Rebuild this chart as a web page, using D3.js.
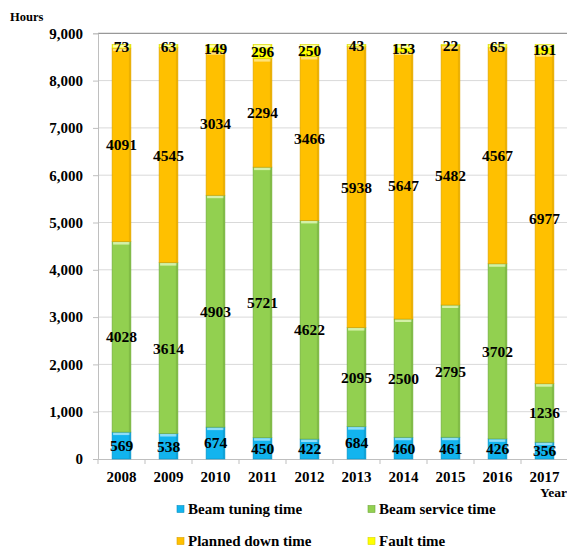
<!DOCTYPE html>
<html>
<head>
<meta charset="utf-8">
<script src="https://cdn.jsdelivr.net/npm/d3@7"></script>
<style>
html,body{margin:0;padding:0;background:#fff;}
svg{display:block;}
</style>
</head>
<body>
<script>
const years = ["2008","2009","2010","2011","2012","2013","2014","2015","2016","2017"];
const beamTuning = [569,538,674,450,422,684,460,461,426,356];
const beamService = [4028,3614,4903,5721,4622,2095,2500,2795,3702,1236];
const plannedDown = [4091,4545,3034,2294,3466,5938,5647,5482,4567,6977];
const faultTime = [73,63,149,296,250,43,153,22,65,191];
const yTicks = [0,1000,2000,3000,4000,5000,6000,7000,8000,9000];
const seriesNames = ["Beam tuning time","Beam service time","Planned down time","Fault time"];
const seriesColors = ["#12B4EE","#92D050","#FFC000","#FFFF00"];
const seriesEdges = ["#0A8FC0","#6FA83A","#D9A000","#D6D600"];
const seriesHighlights = ["#8EDDF8","#D4F0A8","#FFE27A","#FFFFB0"];

const FONT = '"Liberation Serif"';
function styleText(sel, size) {
  return sel.style("font-family", FONT).style("font-weight", "bold").style("font-size", size).attr("fill", "#000");
}

const W = 567, H = 548;
const svg = d3.select("body").append("svg").attr("width", W).attr("height", H);

const x = d3.scaleBand().domain(years).range([98, 568]).paddingInner(0.6).paddingOuter(0.3);
const y = d3.scaleLinear().domain([0, 9000]).range([459, 33.3]);

// gridlines
svg.append("g").selectAll("line").data(yTicks.filter(t => t > 0 && t < 9000)).join("line")
  .attr("x1", 98).attr("x2", 568).attr("y1", d => y(d)).attr("y2", d => y(d))
  .attr("stroke", "#d9d9d9").attr("stroke-width", 1);
// top border
svg.append("line").attr("x1", 98).attr("x2", 568).attr("y1", y(9000)).attr("y2", y(9000))
  .attr("stroke", "#7f7f7f").attr("stroke-width", 1);

// y axis
const yAxis = d3.axisLeft(y).tickValues(yTicks).tickFormat(d3.format(",")).tickSize(5).tickPadding(10);
const gy = svg.append("g").attr("transform", "translate(98,0)").call(yAxis);
gy.select(".domain").attr("stroke", "#bfbfbf");
gy.selectAll(".tick line").attr("stroke", "#bfbfbf");
styleText(gy.selectAll(".tick text"), "15px");

// x axis
const xAxis = d3.axisBottom(x).tickSize(0).tickPadding(12);
const gx = svg.append("g").attr("transform", "translate(0,459)").call(xAxis);
gx.select(".domain").attr("stroke", "#bfbfbf");
styleText(gx.selectAll(".tick text"), "15px");
// x boundary ticks
const step = x.step();
svg.append("g").selectAll("line").data(d3.range(years.length + 1)).join("line")
  .attr("x1", i => 98 + i * step).attr("x2", i => 98 + i * step)
  .attr("y1", 459).attr("y2", 464).attr("stroke", "#bfbfbf");

// stacked data
const rows = years.map((yr, i) => ({year: yr, s0: beamTuning[i], s1: beamService[i], s2: plannedDown[i], s3: faultTime[i]}));
const stack = d3.stack().keys(["s0","s1","s2","s3"]);
const layers = stack(rows);

const barsG = svg.append("g");
layers.forEach((layer, li) => {
  const g = barsG.append("g");
  g.selectAll("rect.main").data(layer).join("rect").attr("class","main")
    .attr("x", d => x(d.data.year))
    .attr("width", x.bandwidth())
    .attr("y", d => y(d[1]))
    .attr("height", d => y(d[0]) - y(d[1]))
    .attr("fill", seriesColors[li])
    .attr("stroke", seriesEdges[li]).attr("stroke-width", 0.6);
  g.selectAll("rect.hl").data(layer).join("rect").attr("class","hl")
    .attr("x", d => x(d.data.year) + 1)
    .attr("width", x.bandwidth() - 2)
    .attr("y", d => y(d[1]) + 0.5)
    .attr("height", d => Math.min(2.5, Math.max(0, y(d[0]) - y(d[1]) - 1)))
    .attr("fill", seriesHighlights[li]);
  g.selectAll("rect.sh").data(layer).join("rect").attr("class","sh")
    .attr("x", d => x(d.data.year) + x.bandwidth() - 2)
    .attr("width", 1.6)
    .attr("y", d => y(d[1]) + 0.5)
    .attr("height", d => Math.max(0, y(d[0]) - y(d[1]) - 1))
    .attr("fill", seriesEdges[li]).attr("opacity", 0.5);
});

// value labels
layers.forEach((layer, li) => {
  const t = svg.append("g").selectAll("text").data(layer).join("text")
    .attr("x", d => x(d.data.year) + x.bandwidth() / 2)
    .attr("y", d => (y(d[0]) + y(d[1])) / 2)
    .attr("dy", "0.35em")
    .attr("text-anchor", "middle")
    .text(d => d[1] - d[0]);
  styleText(t, "15.5px");
});

// axis titles
styleText(svg.append("text").attr("x", 10).attr("y", 21).text("Hours"), "12.5px");
styleText(svg.append("text").attr("x", 540).attr("y", 497).text("Year"), "13.5px");

// legend
const legendPos = [[177,509],[368,509],[177,541],[368,541]];
const lg = svg.append("g").selectAll("g").data(seriesNames).join("g")
  .attr("transform", (d, i) => `translate(${legendPos[i][0]},${legendPos[i][1]})`);
lg.append("rect").attr("x", 0).attr("y", -3.5).attr("width", 7).attr("height", 7)
  .attr("fill", (d, i) => seriesColors[i]).attr("stroke", (d, i) => seriesEdges[i]).attr("stroke-width", 0.6);
styleText(lg.append("text").attr("x", 11).attr("y", 0).attr("dy", "0.35em").text(d => d), "15px");
</script>
</body>
</html>
